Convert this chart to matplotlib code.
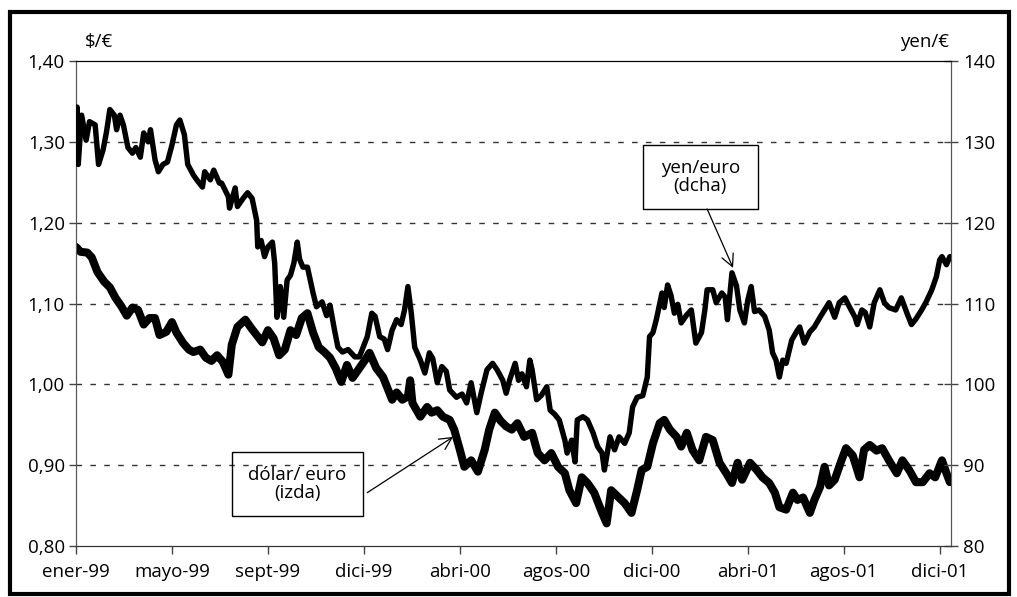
import numpy as np
import matplotlib
matplotlib.use("Agg")
from matplotlib import pyplot as plt
from matplotlib.patches import Rectangle

plt.rcParams['font.family'] = ['Open Sans', 'DejaVu Sans']

# business day index since 4 Jan 1999, one tick every 85 days
tickDays = [0, 85, 170, 255, 340, 425, 510, 595, 680, 765]
tickLabels = ["ener-99", "mayo-99", "sept-99", "dici-99", "abri-00",
              "agos-00", "dici-00", "abri-01", "agos-01", "dici-01"]

# dollar per euro (left axis)
dolarDays = [0, 4, 10, 14, 19, 25, 30, 35, 40, 45, 50, 55, 60, 65, 70, 74,
             80, 85, 89, 95, 100, 104, 110, 115, 120, 125, 130, 135, 138,
             143, 150, 155, 160, 165, 170, 175, 180, 185, 190, 195, 200,
             205, 210, 215, 220, 225, 230, 235, 240, 245, 250, 256, 260,
             266, 272, 276, 280, 284, 289, 294, 296, 298, 305, 311, 315,
             320, 325, 331, 335, 340, 344, 350, 356, 362, 366, 371, 376,
             381, 386, 391, 397, 404, 409, 415, 421, 427, 433, 437, 443,
             448, 453, 459, 466, 470, 474, 480, 486, 492, 497, 501, 506,
             511, 517, 521, 526, 532, 536, 541, 546, 552, 558, 564, 570,
             576, 581, 586, 590, 597, 603, 608, 614, 619, 623, 629, 635,
             639, 644, 650, 654, 659, 663, 667, 672, 678, 682, 688, 694,
             698, 703, 709, 714, 720, 727, 732, 738, 744, 750, 756, 761,
             767, 771, 774]
dolarEuro = [1.170, 1.164, 1.163, 1.157, 1.139, 1.127, 1.120, 1.107, 1.097,
             1.085, 1.095, 1.092, 1.074, 1.082, 1.082, 1.061, 1.065, 1.077,
             1.064, 1.051, 1.043, 1.040, 1.043, 1.033, 1.029, 1.036, 1.028,
             1.012, 1.049, 1.071, 1.080, 1.070, 1.061, 1.052, 1.067, 1.057,
             1.036, 1.043, 1.067, 1.061, 1.082, 1.088, 1.064, 1.046, 1.040,
             1.033, 1.020, 1.003, 1.024, 1.008, 1.018, 1.030, 1.039, 1.020,
             1.009, 0.995, 0.981, 0.990, 0.981, 0.985, 1.005, 0.977, 0.960,
             0.972, 0.965, 0.968, 0.960, 0.956, 0.944, 0.919, 0.898, 0.906,
             0.892, 0.919, 0.944, 0.965, 0.955, 0.948, 0.944, 0.952, 0.935,
             0.940, 0.915, 0.906, 0.915, 0.898, 0.890, 0.869, 0.853, 0.885,
             0.878, 0.866, 0.841, 0.828, 0.869, 0.861, 0.853, 0.841, 0.869,
             0.894, 0.898, 0.927, 0.952, 0.956, 0.944, 0.935, 0.923, 0.940,
             0.919, 0.906, 0.935, 0.931, 0.903, 0.890, 0.878, 0.903, 0.882,
             0.903, 0.894, 0.885, 0.878, 0.866, 0.848, 0.845, 0.866, 0.857,
             0.860, 0.841, 0.857, 0.873, 0.898, 0.875, 0.882, 0.906, 0.921,
             0.912, 0.885, 0.919, 0.925, 0.918, 0.921, 0.906, 0.890, 0.906,
             0.894, 0.879, 0.879, 0.890, 0.885, 0.906, 0.890, 0.879]

# yen per euro (right axis)
yenDays = [0, 1, 2, 5, 9, 12, 17, 20, 24, 27, 30, 34, 36, 39, 42, 46, 50,
           53, 57, 60, 64, 66, 70, 73, 77, 81, 85, 89, 92, 96, 99, 104,
           107, 112, 114, 119, 122, 127, 129, 135, 136, 141, 143, 148, 152,
           156, 160, 161, 164, 167, 170, 174, 176, 178, 181, 184, 187, 190,
           193, 196, 198, 201, 205, 210, 213, 218, 222, 225, 229, 232, 236,
           241, 247, 251, 258, 262, 265, 269, 273, 276, 280, 284, 288, 291,
           294, 297, 300, 305, 309, 313, 316, 320, 324, 328, 331, 337, 342,
           346, 350, 355, 359, 364, 369, 373, 378, 381, 384, 389, 392, 395,
           399, 402, 404, 408, 412, 417, 420, 424, 428, 433, 435, 439, 442,
           444, 449, 453, 458, 462, 466, 468, 473, 477, 481, 486, 490, 493,
           497, 502, 506, 508, 511, 514, 519, 521, 524, 527, 530, 533, 536,
           541, 545, 549, 554, 557, 559, 564, 567, 572, 575, 577, 581, 585,
           588, 592, 595, 598, 601, 605, 610, 614, 617, 620, 623, 626, 629,
           634, 639, 641, 645, 650, 654, 659, 663, 667, 672, 676, 681, 685,
           690, 692, 696, 699, 703, 707, 712, 716, 720, 726, 731, 736, 740,
           744, 749, 753, 758, 762, 765, 767, 771, 774]
yenEuro = [129.0, 134.3, 127.2, 133.3, 130.2, 132.5, 132.1, 127.2, 129.0,
           131.2, 134.0, 133.3, 131.5, 133.3, 132.1, 129.3, 128.6, 129.3,
           128.1, 131.1, 130.0, 131.5, 127.8, 126.3, 127.2, 127.5, 129.6,
           132.1, 132.7, 130.9, 127.2, 125.9, 125.3, 124.4, 126.3, 125.3,
           126.5, 124.9, 124.9, 123.2, 121.8, 124.3, 122.0, 123.0, 123.7,
           123.0, 120.3, 117.0, 117.8, 115.8, 117.0, 117.6, 115.0, 108.3,
           112.1, 108.3, 112.9, 113.5, 115.0, 117.6, 115.5, 114.5, 114.5,
           111.3, 109.6, 110.2, 108.5, 109.8, 106.7, 104.6, 104.0, 104.3,
           103.4, 103.4, 105.9, 108.8, 108.4, 105.9, 105.6, 104.3, 106.7,
           108.0, 107.4, 109.2, 112.1, 108.8, 104.6, 103.0, 101.4, 103.9,
           103.2, 100.2, 102.2, 101.6, 99.3, 98.4, 98.8, 97.7, 100.2, 96.5,
           99.0, 101.8, 102.6, 101.8, 100.5, 98.9, 100.5, 102.6, 100.5,
           101.3, 99.7, 103.0, 101.8, 98.1, 98.6, 99.7, 96.8, 96.3, 95.6,
           93.1, 91.5, 93.1, 90.4, 95.6, 96.0, 95.6, 94.0, 92.3, 91.5, 89.4,
           93.5, 91.9, 93.5, 92.7, 94.0, 97.2, 98.4, 98.6, 100.9, 105.9,
           106.4, 108.0, 111.3, 109.5, 112.3, 111.0, 108.8, 109.9, 107.6,
           108.6, 109.2, 105.1, 106.4, 109.2, 111.7, 111.7, 110.1, 111.3,
           110.8, 108.0, 113.8, 112.2, 109.2, 107.6, 110.4, 112.1, 109.0,
           109.2, 108.4, 106.7, 103.9, 103.0, 100.9, 103.0, 102.6, 105.5,
           106.7, 107.1, 105.1, 106.5, 107.1, 108.3, 109.2, 110.1, 108.3,
           110.1, 110.7, 109.6, 108.3, 107.4, 109.2, 108.9, 107.1, 110.1,
           111.7, 110.1, 109.5, 109.2, 110.7, 108.8, 107.4, 108.1, 109.2,
           110.2, 111.7, 113.3, 115.4, 115.8, 114.8, 115.8]

leftTicks = [0.80, 0.90, 1.00, 1.10, 1.20, 1.30, 1.40]
rightTicks = [80, 90, 100, 110, 120, 130, 140]

fontSize = 13.5

fig = plt.figure(figsize=(10.17, 5.97), dpi=100)
ax = fig.add_axes([0.0747, 0.0854, 0.8604, 0.8124])
ax2 = ax.twinx()

#dashed grid only on the inner levels
for level in leftTicks[1:-1]:
    ax.axhline(level, color='#333333', lw=1.0, ls=(0, (4, 6)), zorder=0)

ax.plot(dolarDays, dolarEuro, color='black', lw=5.8,
        solid_joinstyle='round', solid_capstyle='round', zorder=3)
ax2.plot(yenDays, yenEuro, color='black', lw=3.9,
         solid_joinstyle='round', solid_capstyle='round', zorder=3)

ax.set_xlim(0, 775)
ax.set_ylim(0.80, 1.40)
ax2.set_ylim(80, 140)

ax.set_xticks(tickDays)
ax.set_xticklabels(tickLabels)
ax.set_yticks(leftTicks)
ax.set_yticklabels([("%.2f" % v).replace('.', ',') for v in leftTicks])
ax2.set_yticks(rightTicks)
ax2.set_yticklabels([str(v) for v in rightTicks])

ax.tick_params(axis='y', direction='out', length=5, width=1,
               labelsize=fontSize, pad=3, color='#444444')
ax.tick_params(axis='x', direction='out', length=6, width=1,
               labelsize=fontSize, pad=6, color='#444444')
ax2.tick_params(axis='y', direction='inout', length=10, width=1,
                labelsize=fontSize, pad=4, color='#444444')

for a in (ax, ax2):
    a.spines['left'].set_color('#555555')
    a.spines['right'].set_color('#555555')
    a.spines['top'].set_color('black')
    a.spines['bottom'].set_color('#333333')

ax.text(0.010, 1.04, "$/€", transform=ax.transAxes, fontsize=fontSize,
        ha='left', va='center')
ax2.text(0.998, 1.04, "yen/€", transform=ax2.transAxes, fontsize=fontSize,
         ha='right', va='center')

#label boxes with arrows
ax.add_patch(Rectangle((502, 1.217), 102, 0.079, fill=False, lw=1,
                       edgecolor='black', zorder=5))
ax.text(553, 1.2565, "yen/euro\n(dcha)", ha='center', va='center',
        fontsize=fontSize, linespacing=1.0, zorder=6)
ax.annotate('', xy=(582, 1.144), xytext=(559, 1.217),
            arrowprops=dict(arrowstyle='->', lw=0.9, color='black',
                            mutation_scale=22, shrinkA=0, shrinkB=0),
            zorder=6)

ax.add_patch(Rectangle((138, 0.837), 116, 0.079, fill=False, lw=1,
                       edgecolor='black', zorder=5))
ax.text(196, 0.8765, "dólar/ euro\n(izda)", ha='center', va='center',
        fontsize=fontSize, linespacing=1.0, zorder=6)
ax.annotate('', xy=(334, 0.935), xytext=(258, 0.866),
            arrowprops=dict(arrowstyle='->', lw=0.9, color='black',
                            mutation_scale=22, shrinkA=0, shrinkB=0),
            zorder=6)

#outer frame round the whole picture
fig.patches.append(Rectangle((0.0095, 0.0045), 0.983, 0.975, fill=False,
                             lw=3, edgecolor='black',
                             transform=fig.transFigure, figure=fig))

fig.savefig("out.png", dpi=100)
